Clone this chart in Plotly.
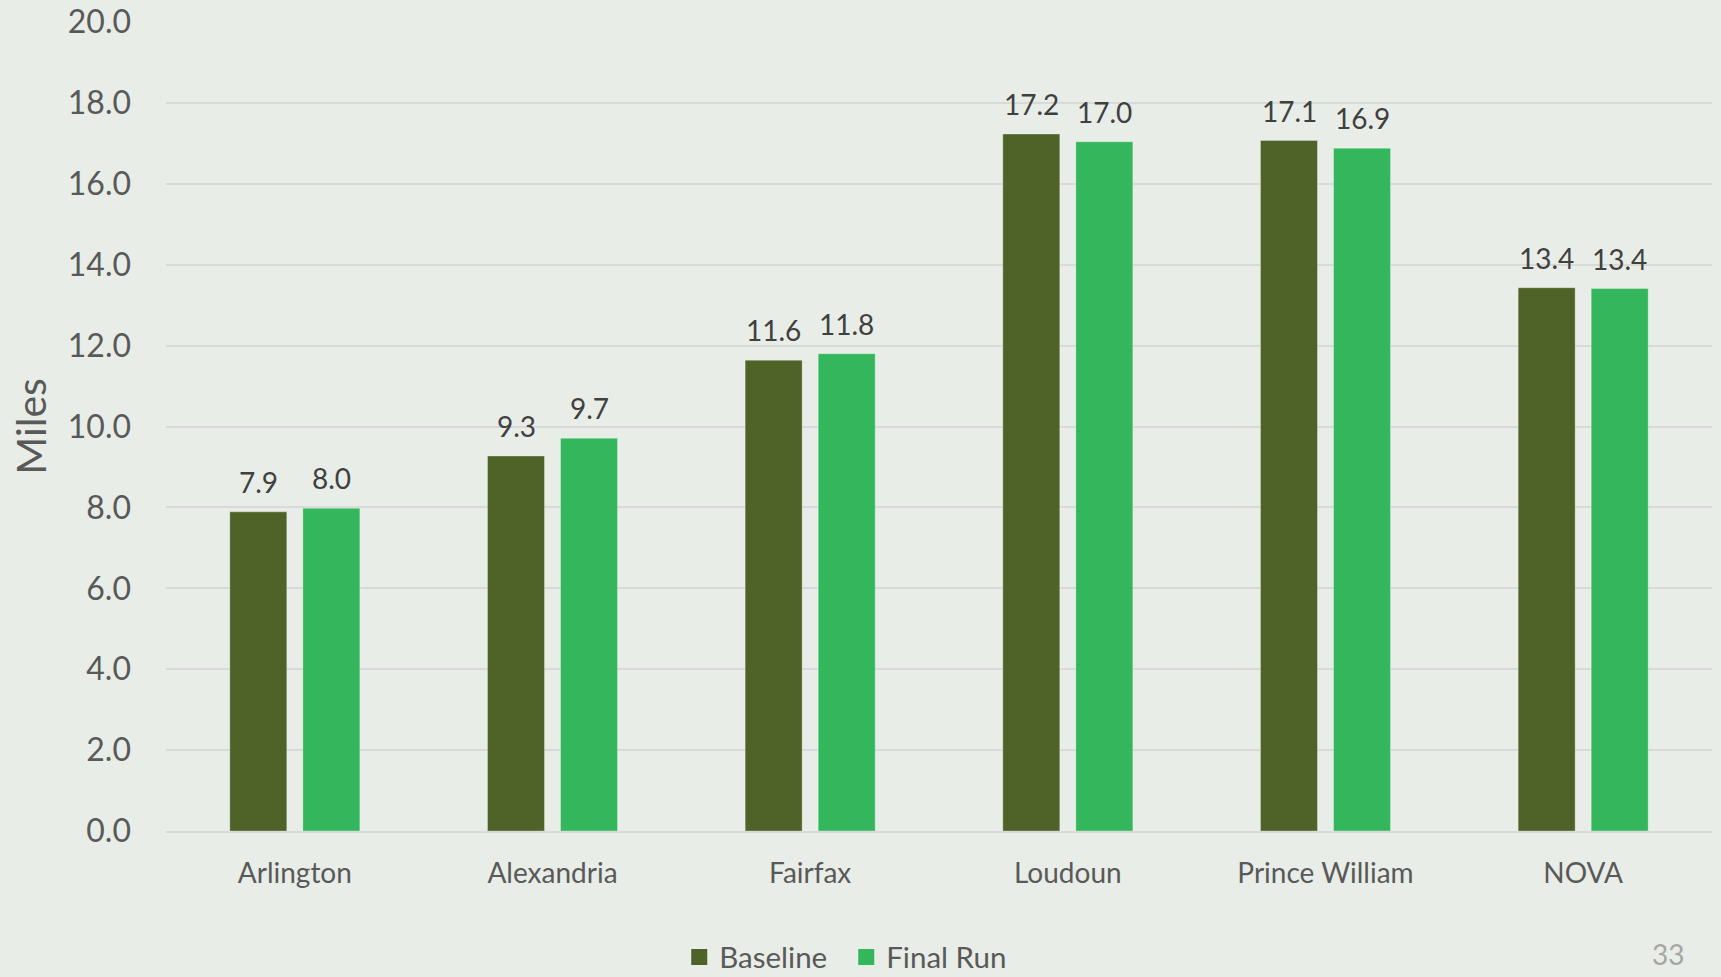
import plotly.graph_objects as go

categories = ["Arlington", "Alexandria", "Fairfax", "Loudoun", "Prince William", "NOVA"]
baseline = [7.89, 9.27, 11.64, 17.23, 17.07, 13.43]
final_run = [7.98, 9.71, 11.80, 17.04, 16.88, 13.41]
y_ticks = [0, 2, 4, 6, 8, 10, 12, 14, 16, 18, 20]
y_tick_labels = [f"{v:.1f}" for v in y_ticks]
series = [("Baseline", baseline, "#4F6228", -36.5), ("Final Run", final_run, "#34B65D", 36.5)]

FONT = "Lato, 'Open Sans', sans-serif"
BG = "#E8EDE7"

fig = go.Figure()
for name, vals, color, shift in series:
    fig.add_trace(go.Bar(
        name=name, x=categories, y=vals, showlegend=False,
        marker=dict(color=color, line=dict(color="rgba(255,255,255,0.3)", width=1)),
    ))
    # legend entry with a larger square swatch
    fig.add_trace(go.Scatter(
        name=name, x=[None], y=[None], mode="markers",
        marker=dict(symbol="square", size=18, color=color),
    ))
    for cat, v in zip(categories, vals):
        fig.add_annotation(
            x=cat, y=v, text=f"{v:.1f}", showarrow=False,
            xanchor="center", yanchor="bottom", xshift=shift, yshift=11,
            font=dict(family=FONT, size=28, color="#404040"),
        )

fig.add_annotation(
    text="33", xref="paper", yref="paper", x=0.9715, y=-0.1755,
    xanchor="center", yanchor="bottom", showarrow=False,
    font=dict(family=FONT, size=28, color="#A6A6A6"),
)

fig.update_layout(
    width=1721, height=977,
    paper_bgcolor=BG, plot_bgcolor=BG,
    margin=dict(l=166, r=9, t=22, b=146, autoexpand=False),
    barmode="group", bargap=0.433, bargroupgap=0.22,
    font=dict(family=FONT, color="#595959"),
    showlegend=True,
    legend=dict(
        orientation="h", x=0.44, xanchor="center", y=-0.156, yanchor="middle",
        font=dict(family=FONT, size=29.5, color="#595959"),
        bgcolor="rgba(0,0,0,0)", itemwidth=30, entrywidth=122,
    ),
)
fig.update_yaxes(
    range=[0, 20], tickvals=y_ticks, ticktext=y_tick_labels,
    showgrid=True, gridcolor="#D9D9D9", gridwidth=2, zeroline=False,
    showline=False, ticks="", ticklabelstandoff=34,
    tickfont=dict(family=FONT, size=32, color="#595959"),
    title=dict(text="Miles", font=dict(family=FONT, size=41, color="#595959"), standoff=8),
)
fig.update_xaxes(
    range=[-0.5, 5.5],
    showgrid=False, showline=True, linecolor="#D9D9D9", linewidth=2,
    ticks="", ticklabelstandoff=16,
    tickfont=dict(family=FONT, size=28, color="#595959"),
)

fig.write_html(
    "out.html",
    config={"displayModeBar": False},
    post_script="document.body.style.margin='0';document.body.style.background='%s';" % BG,
)
